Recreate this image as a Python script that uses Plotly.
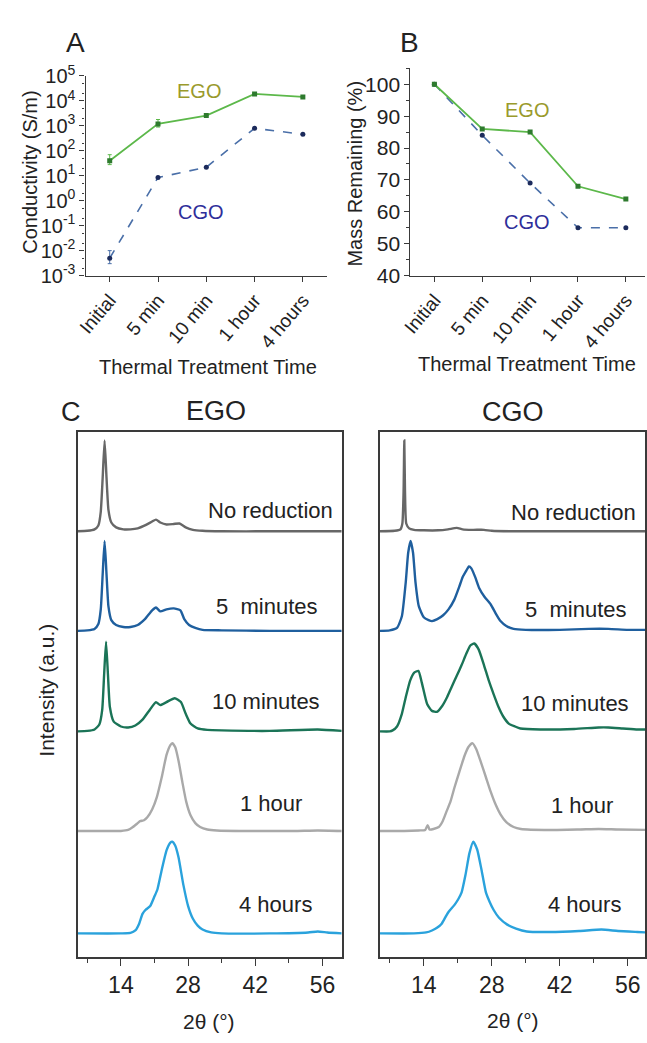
import plotly.graph_objects as go

W, H = 647, 1043

# ---------------- Panel A / B data ----------------
times = ["Initial", "5 min", "10 min", "1 hour", "4 hours"]
cond_ego = [40, 1200, 2600, 19000, 14500]
cond_ego_err_plus = [30, 600, 0, 0, 0]
cond_ego_err_minus = [12, 300, 0, 0, 0]
cond_cgo = [0.005, 8.5, 22, 800, 460]
cond_cgo_err_plus = [0.005, 0, 0, 0, 0]
cond_cgo_err_minus = [0.002, 0, 0, 0, 0]
mass_ego = [100, 86, 85, 68, 64]
mass_cgo = [100, 84, 69, 55, 55]

# ---------------- Panel C data (2theta in deg, intensity in a.u.) ----------------
sample_labels = ["No reduction", "5\u00a0 minutes", "10 minutes", "1 hour", "4 hours"]
sample_colors = ["#676767", "#1f5f9e", "#1b7457", "#a9a9a9", "#2aa2dc"]

ego_nr_x = [5, 7, 8.5, 9.3, 9.8, 10.2, 10.6, 11.0, 11.4, 12, 13, 14.5, 16, 17.5, 19, 20.5, 21.3, 22.2, 23.5, 25, 26.2, 27.5, 29, 31, 35, 45, 55, 60]
ego_nr_y = [0, 0.5, 2, 6, 20, 55, 93, 55, 22, 9, 4, 2, 2, 3, 6, 10, 12, 9, 7, 7.5, 8, 4, 1.5, 0.5, 0, 0, 0, 0]
ego_5m_x = [5, 7, 8.5, 9.3, 9.8, 10.2, 10.6, 11.0, 11.4, 12, 13, 14.5, 16, 17.5, 19, 20.5, 21.3, 22.2, 23.5, 25, 26.4, 27.2, 28.2, 29.5, 31, 35, 45, 55, 60]
ego_5m_y = [0, 0.5, 2, 7, 22, 58, 92, 58, 25, 11, 6, 4, 4, 6, 12, 21, 24, 20, 22, 23, 21, 12, 6, 3, 1, 0.5, 0, 0, 0]
ego_10m_x = [5, 7, 8.5, 9.5, 10.1, 10.5, 10.9, 11.3, 11.7, 12.5, 14, 15.5, 17, 18.5, 20, 21.3, 22.2, 23.5, 25.2, 26.5, 27.5, 28.5, 30, 32, 35, 45, 55, 60]
ego_10m_y = [0, 0.5, 2, 7, 22, 58, 92, 58, 25, 10, 5, 4, 6, 12, 22, 30, 27, 30, 34, 30, 18, 8, 3, 1.5, 1, 0.5, 2, 0.5]
ego_1h_x = [5, 10, 14, 15.5, 16.5, 17.5, 18, 18.8, 19.5, 20.5, 21.5, 22.5, 23.5, 24.3, 24.7, 25.3, 26, 26.8, 27.6, 28.5, 29.5, 30.5, 32, 34, 40, 50, 55, 60]
ego_1h_y = [0, 0, 0, 1, 4, 8, 10, 11, 14, 22, 35, 55, 78, 88, 90, 86, 72, 50, 30, 16, 8, 4, 1.5, 0.5, 0, 0, 0.5, 0]
ego_4h_x = [5, 14, 16, 17, 17.8, 18.5, 19.1, 20.1, 21, 21.6, 22.5, 23.5, 24.3, 24.7, 25.3, 26, 27, 28, 29, 30, 31, 32.8, 35, 45, 53, 55, 57, 60]
ego_4h_y = [0, 0, 0.5, 3, 10, 20, 24, 28, 38, 45, 65, 85, 93, 94, 90, 78, 50, 28, 15, 8, 4, 1, 0, 0, 1, 2, 1, 0]

cgo_nr_x = [5, 8, 9.2, 9.6, 9.85, 10.0, 10.15, 10.4, 11, 12, 14, 17, 19, 20.8, 22, 24, 26.4, 28, 32, 60]
cgo_nr_y = [0, 0.5, 2, 8, 40, 93, 40, 8, 3, 1.5, 1, 1, 2, 3.5, 2, 1.5, 1.5, 0.5, 0, 0]
cgo_5m_x = [5, 7, 8.5, 9.5, 10.3, 10.8, 11.3, 11.8, 12.3, 13, 14, 15, 15.7, 16.8, 18, 19.1, 20.3, 21.3, 22, 22.8, 23.3, 23.8, 24.6, 25.4, 26.5, 27.8, 28.8, 29.8, 31, 32.5, 35, 42, 48, 52, 56, 60]
cgo_5m_y = [0, 0.5, 3, 15, 50, 80, 92, 80, 50, 25, 14, 11, 10, 12, 16, 22, 32, 45, 55, 62, 66, 64, 55, 44, 35, 27, 18, 10, 5, 2, 1, 1, 2, 2, 1, 1]
cgo_10m_x = [5, 7, 7.6, 8.5, 9.5, 10.3, 11.2, 12, 12.9, 13.6, 14.7, 15.7, 16.7, 17.8, 18.8, 19.7, 20.8, 21.8, 22.8, 23.6, 24.4, 25.3, 26.4, 27.4, 28.4, 29.4, 30.4, 31.5, 32.8, 33.9, 38, 45, 50, 52, 55, 58, 60]
cgo_10m_y = [0, 0, 1, 5, 18, 35, 52, 60, 62, 50, 28, 21, 20, 26, 35, 45, 57, 68, 80, 88, 90, 84, 68, 52, 38, 25, 15, 8, 5, 3, 2, 2.5, 4, 4, 3, 2, 2]
cgo_1h_x = [5, 10, 13, 14.3, 14.8, 15.2, 16, 17.1, 17.9, 18.7, 19.5, 20.3, 21.3, 22.4, 23.2, 24.0, 24.8, 25.8, 26.8, 27.8, 28.8, 29.8, 31, 32.5, 34, 40, 46, 50, 54, 60]
cgo_1h_y = [0, 0, 0.5, 1, 6, 1.5, 2, 4, 10, 20, 30, 44, 60, 77, 86, 90, 84, 70, 55, 40, 27, 17, 9, 4, 2, 1, 1.5, 2, 1.5, 1]
cgo_4h_x = [5, 12, 14.5, 15.7, 16.8, 17.7, 18.5, 19.1, 20.3, 21.1, 21.8, 22.6, 23.4, 24.2, 25.0, 25.9, 26.8, 27.6, 28.4, 29.5, 31.2, 33, 35.2, 40, 46, 50.6, 54, 58, 60]
cgo_4h_y = [0, 0, 1, 3, 6, 10, 17, 22, 29, 35, 42, 60, 82, 94, 86, 65, 42, 32, 24, 16, 9, 5, 2, 1.5, 2.5, 4, 2.5, 1.5, 1]

ego_curves = [(ego_nr_x, ego_nr_y), (ego_5m_x, ego_5m_y), (ego_10m_x, ego_10m_y), (ego_1h_x, ego_1h_y), (ego_4h_x, ego_4h_y)]
cgo_curves = [(cgo_nr_x, cgo_nr_y), (cgo_5m_x, cgo_5m_y), (cgo_10m_x, cgo_10m_y), (cgo_1h_x, cgo_1h_y), (cgo_4h_x, cgo_4h_y)]

# stacking offsets (layout only)
stack_offsets = [436, 334, 231, 129, 24]

FONT = "Liberation Sans, Arial, sans-serif"
AX = "#3a3a3a"
EGO_LINE = "#5cb84a"
EGO_MK = "#2e7a2e"
CGO_LINE = "#4a6fa8"
CGO_MK = "#1c2b5c"


def px(x):
    return x / W


def py(y):
    return 1 - y / H


fig = go.Figure()

# Panel A
fig.add_trace(go.Scatter(
    x=times, y=cond_ego, xaxis="x", yaxis="y", mode="lines+markers",
    line=dict(color=EGO_LINE, width=1.8),
    marker=dict(symbol="square", size=5, color=EGO_MK),
    error_y=dict(type="data", array=cond_ego_err_plus, arrayminus=cond_ego_err_minus,
                 color=EGO_LINE, thickness=1, width=2),
    showlegend=False))
fig.add_trace(go.Scatter(
    x=times, y=cond_cgo, xaxis="x", yaxis="y", mode="lines+markers",
    line=dict(color=CGO_LINE, width=1.6, dash="dash"),
    marker=dict(symbol="circle", size=5, color=CGO_MK),
    error_y=dict(type="data", array=cond_cgo_err_plus, arrayminus=cond_cgo_err_minus,
                 color=CGO_LINE, thickness=1, width=2),
    showlegend=False))

# Panel B
fig.add_trace(go.Scatter(
    x=times, y=mass_cgo, xaxis="x2", yaxis="y2", mode="lines+markers",
    line=dict(color=CGO_LINE, width=1.6, dash="dash"),
    marker=dict(symbol="circle", size=5, color=CGO_MK), showlegend=False))
fig.add_trace(go.Scatter(
    x=times, y=mass_ego, xaxis="x2", yaxis="y2", mode="lines+markers",
    line=dict(color=EGO_LINE, width=1.8),
    marker=dict(symbol="square", size=5, color=EGO_MK), showlegend=False))

# Panel C
for curves, xa, ya in [(ego_curves, "x3", "y3"), (cgo_curves, "x4", "y4")]:
    for (cx, cy), off, col in zip(curves, stack_offsets, sample_colors):
        fig.add_trace(go.Scatter(
            x=cx, y=[v + off for v in cy], xaxis=xa, yaxis=ya, mode="lines",
            line=dict(color=col, width=2.4, shape="spline", smoothing=0.5),
            showlegend=False))

tickfont = dict(family=FONT, size=20, color="#222")

cat_x_common = dict(
    type="category", range=[-0.5, 4.5], showline=True, linecolor=AX, linewidth=1.3,
    ticks="outside", ticklen=5, tickcolor=AX, tickangle=-50, tickfont=dict(family=FONT, size=19, color="#222"),
    showgrid=False, zeroline=False)

layout = dict(
    width=W, height=H, margin=dict(l=0, r=0, t=0, b=0),
    paper_bgcolor="white", plot_bgcolor="white",
    font=dict(family=FONT, color="#222"),
    xaxis=dict(domain=[px(77), px(323)], anchor="y", **cat_x_common),
    yaxis=dict(domain=[py(268), py(63.5)], anchor="x", type="log", range=[-3, 5],
               tickvals=[1e-3, 1e-2, 1e-1, 1, 10, 100, 1e3, 1e4, 1e5],
               ticktext=["10<sup>-3</sup>", "10<sup>-2</sup>", "10<sup>-1</sup>", "10<sup>0</sup>",
                         "10<sup>1</sup>", "10<sup>2</sup>", "10<sup>3</sup>", "10<sup>4</sup>", "10<sup>5</sup>"],
               showline=True, linecolor=AX, linewidth=1.3, ticks="outside", ticklen=5, tickcolor=AX,
               minor=dict(ticks="outside", ticklen=2.5, tickcolor=AX, showgrid=False),
               tickfont=tickfont, showgrid=False, zeroline=False),
    xaxis2=dict(domain=[px(408), 1.0], anchor="y2", **{**cat_x_common, "range": [-0.5, 4.4]}),
    yaxis2=dict(domain=[py(268), py(55)], anchor="x2", range=[40, 105.2],
                tickvals=[40, 50, 60, 70, 80, 90, 100],
                showline=True, linecolor=AX, linewidth=1.3, ticks="outside", ticklen=5, tickcolor=AX,
                minor=dict(dtick=5, tick0=0, ticks="outside", ticklen=3, tickcolor=AX, showgrid=False),
                tickfont=dict(family=FONT, size=21, color="#222"), showgrid=False, zeroline=False),
    xaxis3=dict(domain=[px(69), px(338)], anchor="y3", range=[5, 60],
                tickvals=[14, 28, 42, 56], ticks="outside", ticklen=7, tickcolor=AX,
                minor=dict(dtick=14, tick0=7, ticks="outside", ticklen=4, tickcolor=AX, showgrid=False),
                showline=True, mirror=True, linecolor=AX, linewidth=1.5,
                tickfont=dict(family=FONT, size=23, color="#222"), showgrid=False, zeroline=False),
    yaxis3=dict(domain=[py(966), py(428)], anchor="x3", range=[0, 538], showticklabels=False,
                ticks="", showline=True, mirror=True, linecolor=AX, linewidth=1.5,
                showgrid=False, zeroline=False),
    xaxis4=dict(domain=[px(377), 1.0], anchor="y4", range=[5, 59.55],
                tickvals=[14, 28, 42, 56], ticks="outside", ticklen=7, tickcolor=AX,
                minor=dict(dtick=14, tick0=7, ticks="outside", ticklen=4, tickcolor=AX, showgrid=False),
                showline=True, mirror=True, linecolor=AX, linewidth=1.5,
                tickfont=dict(family=FONT, size=23, color="#222"), showgrid=False, zeroline=False),
    yaxis4=dict(domain=[py(966), py(428)], anchor="x4", range=[0, 538], showticklabels=False,
                ticks="", showline=True, mirror=True, linecolor=AX, linewidth=1.5,
                showgrid=False, zeroline=False),
)
fig.update_layout(**layout)

ann = []


def add_text(text, x, y, size, color="#222", angle=0, xanchor="center"):
    ann.append(dict(text=text, x=px(x), y=py(y), xref="paper", yref="paper", showarrow=False,
                    xanchor=xanchor, yanchor="middle", textangle=angle,
                    font=dict(family=FONT, size=size, color=color)))


add_text("A", 67, 29, 28)
add_text("B", 407, 29, 28)
add_text("C", 62, 408, 27)
add_text("EGO", 210, 407, 27)
add_text("CGO", 512, 408, 27)
add_text("EGO", 193, 79, 20, color="#9a9a2c")
add_text("CGO", 195, 203, 20, color="#2e2e9a")
add_text("EGO", 527, 98, 20, color="#9a9a2c")
add_text("CGO", 527, 213, 20, color="#2e2e9a")
add_text("Conductivity (S/m)", 20, 162, 20, angle=-90)
add_text("Mass Remaining (%)", 352, 163, 20, angle=-90)
add_text("Thermal Treatment Time", 202, 362, 20)
add_text("Thermal Treatment Time", 527, 359, 20)
add_text("Intensity (a.u.)", 37, 693, 21, angle=-90)
add_text("2\u03b8 (\u00b0)", 203, 1032, 21)
add_text("2\u03b8 (\u00b0)", 513, 1031, 21)

ego_label_x = [45.1, 44.5, 44.3, 45.3, 46.1]
ego_label_y = [457, 359, 262, 157, 54]
cgo_label_x = [44.8, 45.4, 45.2, 46.6, 47.0]
cgo_label_y = [455, 356, 260, 155, 54]
for lab, lx, ly in zip(sample_labels, ego_label_x, ego_label_y):
    ann.append(dict(text=lab, x=lx, y=ly, xref="x3", yref="y3", showarrow=False,
                    xanchor="center", yanchor="middle", font=dict(family=FONT, size=22, color="#222")))
for lab, lx, ly in zip(sample_labels, cgo_label_x, cgo_label_y):
    ann.append(dict(text=lab, x=lx, y=ly, xref="x4", yref="y4", showarrow=False,
                    xanchor="center", yanchor="middle", font=dict(family=FONT, size=22, color="#222")))

fig.update_layout(annotations=ann)
fig.write_html("out.html")
